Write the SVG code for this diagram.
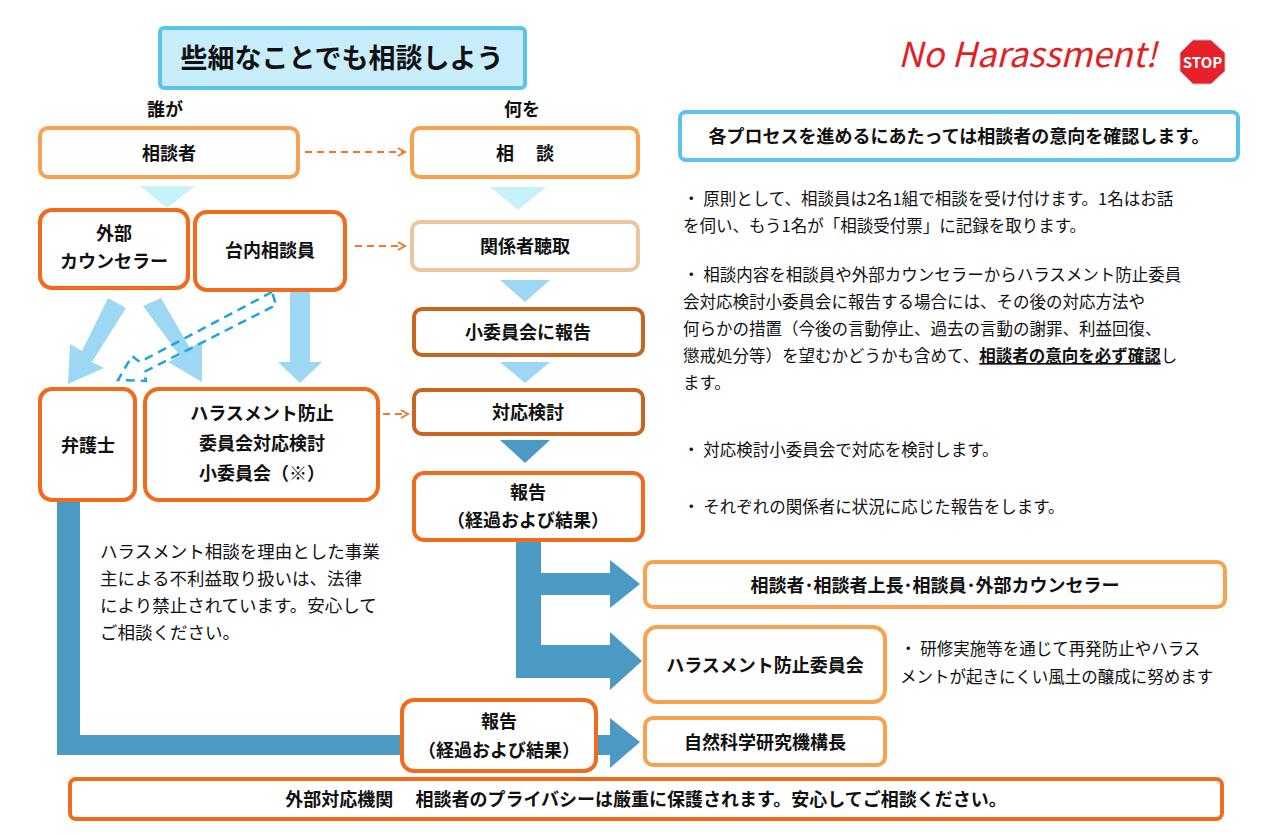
<svg xmlns="http://www.w3.org/2000/svg" width="1280" height="837" viewBox="0 0 1280 837">
<style>
text{font-family:"Noto Sans CJK JP","Noto Sans",sans-serif;fill:#111}
.b{font-weight:bold;font-size:18px}
.t{font-size:16.5px}
.l{font-size:17.5px}
.n{fill:#fff;stroke-width:4}
.lo{stroke:#f8a24f}
.do{stroke:#f26a1b}
.br{stroke:#c96520}
.da{stroke:#f07a2a;stroke-width:2;stroke-dasharray:7,5;fill:none}
</style>
<defs>
<marker id="oa" markerWidth="10" markerHeight="10" refX="8" refY="5" orient="auto" markerUnits="userSpaceOnUse"><path d="M1,1 L8,5 L1,9" fill="none" stroke="#f07a2a" stroke-width="2"/></marker>
</defs>
<rect width="1280" height="837" fill="#fff"/>
<g id="title"><rect x="160" y="28" width="365" height="60" rx="4" fill="#c9eefb" stroke="#5cc3ee" stroke-width="4"/>
<text x="342" y="68" text-anchor="middle" font-size="27" font-weight="bold">些細なことでも相談しよう</text></g>
<text x="898" y="67" font-family="Liberation Sans,sans-serif" font-style="italic" font-size="34.5" style="fill:#e31e24">No Harassment!</text>
<g id="stop"><polygon points="1193,40 1211,40 1225,53 1225,71 1211,84 1193,84 1180,71 1180,53" fill="#e8202a" stroke="#c0c0c0" stroke-width="1"/>
<text x="1202.5" y="68" text-anchor="middle" font-family="Liberation Sans,sans-serif" font-weight="bold" font-size="15" style="fill:#fff">STOP</text></g>
<text x="165" y="116" class="b" font-size="15" text-anchor="middle">誰が</text>
<text x="522" y="116" class="b" font-size="15" text-anchor="middle">何を</text>
<g id="connectors">
<line x1="305" y1="152" x2="405" y2="152" class="da" marker-end="url(#oa)"/>
<line x1="355" y1="246" x2="405" y2="246" class="da" marker-end="url(#oa)"/>
<line x1="383" y1="414" x2="408" y2="414" class="da" marker-end="url(#oa)"/>
<polygon points="140,186 195,186 167,208" fill="#c8f2f9"/>
<polygon points="490,187 546,187 518,210" fill="#c8f2f9"/>
<polygon points="500,280 550,280 525,302" fill="#9cd8f4"/>
<polygon points="500,362 550,362 525,383" fill="#9cd8f4"/>
<polygon points="500,440 550,440 525,463" fill="#4a9ac4"/>
<polygon points="108,298 126,308 92,362 104,368 68,384 70,344 82,351" fill="#9cd8f4"/>
<polygon points="143,306 161,298 190,348 202,341 202,382 168,362 180,356" fill="#9cd8f4"/>
<polygon points="290,292 310,292 310,362 322,362 300,383 278,362 290,362" fill="#9cd8f4"/>
<path d="M272,292 L140,362 L132,356 L118,380 L146,381 L144,372 L276,305 Z" fill="none" stroke="#1ba6e0" stroke-width="2.5" stroke-dasharray="9,6"/>
<polygon points="516,540 541,540 541,573 610,573 610,560 640,584 610,608 610,595 541,595 541,645 610,645 610,632 642,661 610,690 610,678 516,678" fill="#4a9ac4"/>
<polygon points="57,500 80,500 80,735 610,735 610,718 640,742 610,768 610,755 57,755" fill="#4a9ac4"/>
</g>
<g id="n1"><rect x="40" y="128" width="258" height="49" rx="8" class="n lo"/><text x="169" y="160" class="b" text-anchor="middle">相談者</text></g>
<g id="n2"><rect x="412" y="128" width="226" height="49" rx="8" class="n lo"/><text x="525" y="160" class="b" text-anchor="middle">相　 談</text></g>
<g id="n3"><rect x="40" y="210" width="148" height="78" rx="12" class="n do"/><text x="114" y="240" class="b" font-size="17" text-anchor="middle">外部</text><text x="114" y="268" class="b" font-size="17" text-anchor="middle">カウンセラー</text></g>
<g id="n4"><rect x="195" y="212" width="150" height="78" rx="12" class="n do"/><text x="270" y="257" class="b" font-size="17" text-anchor="middle">台内相談員</text></g>
<g id="n5"><rect x="412" y="222" width="226" height="48" rx="8" class="n" stroke="#ebc7a0"/><text x="525" y="253" class="b" text-anchor="middle">関係者聴取</text></g>
<g id="n6"><rect x="414" y="309" width="229" height="46" rx="8" class="n br"/><text x="528" y="339" class="b" font-size="17" text-anchor="middle">小委員会に報告</text></g>
<g id="n7"><rect x="414" y="390" width="229" height="44" rx="8" class="n br"/><text x="528" y="419" class="b" font-size="17" text-anchor="middle">対応検討</text></g>
<g id="n8"><rect x="414" y="473" width="229" height="67" rx="10" class="n do"/><text x="528" y="499" class="b" font-size="17" text-anchor="middle">報告</text><text x="528" y="527" class="b" font-size="17" text-anchor="middle">（経過および結果）</text></g>
<g id="n9"><rect x="40" y="389" width="95" height="111" rx="12" class="n do"/><text x="88" y="452" class="b" font-size="21" text-anchor="middle">弁護士</text></g>
<g id="n10"><rect x="145" y="389" width="233" height="111" rx="14" class="n do"/><text x="262" y="420" class="b" font-size="19" text-anchor="middle">ハラスメント防止</text><text x="262" y="450" class="b" font-size="19" text-anchor="middle">委員会対応検討</text><text x="262" y="480" class="b" font-size="19" text-anchor="middle">小委員会（※）</text></g>
<g id="n11"><rect x="645" y="562" width="580" height="45" rx="8" class="n lo"/><text x="935" y="592" class="b" font-size="19" text-anchor="middle">相談者･相談者上長･相談員･外部カウンセラー</text></g>
<g id="n12"><rect x="645" y="627" width="240" height="75" rx="12" class="n lo"/><text x="765" y="672" class="b" font-size="19" text-anchor="middle">ハラスメント防止委員会</text></g>
<g id="n13"><rect x="645" y="718" width="240" height="47" rx="8" class="n lo"/><text x="765" y="749" class="b" font-size="19" text-anchor="middle">自然科学研究機構長</text></g>
<g id="n14"><rect x="402" y="700" width="194" height="71" rx="12" class="n do"/><text x="499" y="728" class="b" font-size="16" text-anchor="middle">報告</text><text x="499" y="757" class="b" font-size="16" text-anchor="middle">（経過および結果）</text></g>
<g id="n15"><rect x="70" y="779" width="1152" height="40" rx="6" class="n do"/><text x="646" y="806" class="b" font-size="17" text-anchor="middle">外部対応機関　 相談者のプライバシーは厳重に保護されます。安心してご相談ください。</text></g>
<g id="info"><rect x="680" y="112" width="558" height="48" rx="6" fill="#fff" stroke="#5cc3ee" stroke-width="4"/><text x="959" y="143" class="b" font-size="17" text-anchor="middle">各プロセスを進めるにあたっては相談者の意向を確認します。</text></g>
<g id="notes">
<text x="683" y="205" class="t">・ 原則として、相談員は2名1組で相談を受け付けます。1名はお話</text>
<text x="683" y="232" class="t">を伺い、もう1名が「相談受付票」に記録を取ります。</text>
<text x="683" y="281" class="t">・ 相談内容を相談員や外部カウンセラーからハラスメント防止委員</text>
<text x="683" y="308" class="t">会対応検討小委員会に報告する場合には、その後の対応方法や</text>
<text x="683" y="335" class="t">何らかの措置（今後の言動停止、過去の言動の謝罪、利益回復、</text>
<text x="683" y="362" class="t">懲戒処分等）を望むかどうかも含めて、<tspan font-weight="bold" text-decoration="underline">相談者の意向を必ず確認</tspan>し</text>
<text x="683" y="389" class="t">ます。</text>
<text x="683" y="456" class="t">・ 対応検討小委員会で対応を検討します。</text>
<text x="683" y="513" class="t">・ それぞれの関係者に状況に応じた報告をします。</text>
<text x="900" y="655" class="t">・ 研修実施等を通じて再発防止やハラス</text>
<text x="900" y="683" class="t">メントが起きにくい風土の醸成に努めます</text>
<text x="100" y="558" class="l">ハラスメント相談を理由とした事業</text>
<text x="100" y="585" class="l">主による不利益取り扱いは、法律</text>
<text x="100" y="612" class="l">により禁止されています。安心して</text>
<text x="100" y="639" class="l">ご相談ください。</text>
</g>
</svg>
